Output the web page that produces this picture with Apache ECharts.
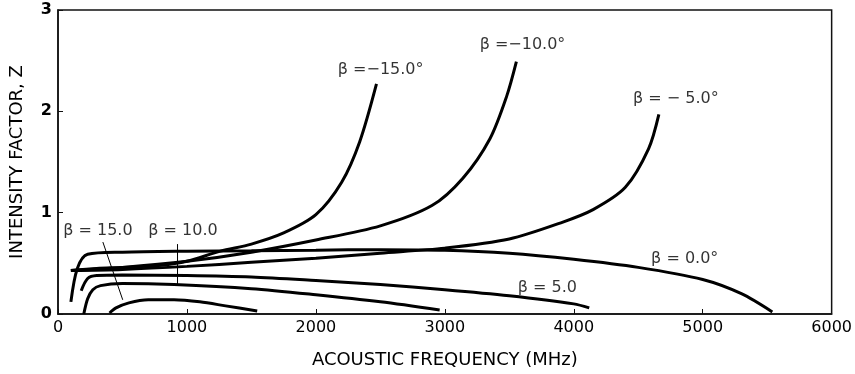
<!DOCTYPE html>
<html>
<head>
<meta charset="utf-8">
<script src="https://cdn.jsdelivr.net/npm/echarts@6/dist/echarts.min.js"></script>
<style>
  html, body { margin: 0; padding: 0; background: #fff; }
  #chart { width: 855px; height: 374px; }
</style>
</head>
<body>
<div id="chart"></div>
<script>
// curves: [frequency MHz, Z]
var betaM15 = [[100, 0.43], [300, 0.45], [500, 0.46], [800, 0.48], [1000, 0.52], [1260, 0.62], [1500, 0.69], [1750, 0.8], [2000, 0.98], [2200, 1.3], [2340, 1.7], [2470, 2.27]];
var betaM10 = [[100, 0.43], [500, 0.46], [1000, 0.52], [1500, 0.61], [2000, 0.73], [2500, 0.87], [2900, 1.07], [3140, 1.34], [3350, 1.73], [3480, 2.15], [3555, 2.49]];
var betaM5 = [[100, 0.43], [500, 0.44], [1000, 0.47], [1500, 0.51], [2000, 0.55], [2500, 0.6], [3000, 0.65], [3500, 0.74], [3900, 0.9], [4150, 1.03], [4400, 1.25], [4580, 1.63], [4660, 1.97]];
var beta0 = [[100, 0.12], [150, 0.45], [230, 0.59], [500, 0.61], [1000, 0.62], [1500, 0.625], [2000, 0.63], [2500, 0.635], [3000, 0.63], [3500, 0.6], [4000, 0.54], [4500, 0.46], [5000, 0.34], [5300, 0.2], [5540, 0.02]];
var beta5 = [[180, 0.23], [230, 0.35], [300, 0.38], [500, 0.385], [1000, 0.38], [1500, 0.365], [2000, 0.33], [2500, 0.29], [3000, 0.24], [3500, 0.18], [4000, 0.1], [4120, 0.06]];
var beta10 = [[200, 0.0], [230, 0.15], [270, 0.24], [330, 0.28], [500, 0.3], [900, 0.29], [1500, 0.25], [2000, 0.19], [2500, 0.12], [2960, 0.04]];
var beta15 = [[400, 0.01], [450, 0.06], [550, 0.11], [700, 0.14], [900, 0.14], [1100, 0.12], [1300, 0.08], [1545, 0.03]];

var curves = [betaM15, betaM10, betaM5, beta0, beta5, beta10, beta15];

// curve labels and their anchor points in data units
var labelTexts = ['β =−15.0°', 'β =−10.0°', 'β = − 5.0°', 'β = 0.0°', 'β = 5.0', 'β = 15.0', 'β = 10.0'];
var labelAt = [[2170, 2.41], [3270, 2.66], [4460, 2.12], [4600, 0.54], [3565, 0.26], [40, 0.82], [700, 0.82]];

// thin leader lines from labels to curves
var leader15 = [[348, 0.71], [502, 0.14]];
var leader10 = [[927, 0.69], [927, 0.29]];

var xTicks = [0, 1000, 2000, 3000, 4000, 5000, 6000];
var yTicks = [0, 1, 2, 3];

var font = 'DejaVu Sans';
var chart = echarts.init(document.getElementById('chart'), null, { renderer: 'canvas' });

var series = curves.map(function (d) {
  return {
    type: 'line',
    data: d,
    smooth: 0.3,
    showSymbol: false,
    lineStyle: { color: '#000', width: 3 },
    silent: true
  };
});

[leader15, leader10].forEach(function (d) {
  series.push({
    type: 'line',
    data: d,
    showSymbol: false,
    lineStyle: { color: '#000', width: 1 },
    silent: true
  });
});

series.push({
  type: 'scatter',
  symbolSize: 0,
  silent: true,
  data: labelAt.map(function (p, i) { return { value: p, name: labelTexts[i] }; }),
  label: {
    show: true,
    position: 'right',
    distance: 0,
    formatter: function (p) { return p.name; },
    color: '#000',
    fontFamily: font,
    fontSize: 16
  }
});

chart.setOption({
  backgroundColor: '#fff',
  animation: false,
  grid: {
    left: 57, right: 22, top: 10, bottom: 57,
    show: true, borderColor: '#111', borderWidth: 1.5
  },
  xAxis: {
    type: 'value',
    min: xTicks[0], max: xTicks[xTicks.length - 1], interval: 1000,
    name: 'ACOUSTIC FREQUENCY (MHz)',
    nameLocation: 'middle',
    nameGap: 37,
    nameTextStyle: { color: '#000', fontFamily: font, fontSize: 18 },
    axisLine: { show: true, lineStyle: { color: '#111', width: 1.5 } },
    axisTick: { show: true, inside: true, length: 5, lineStyle: { color: '#111' } },
    axisLabel: {
      color: '#000', fontFamily: font, fontSize: 16, margin: 6,
      showMinLabel: true, showMaxLabel: true,
      formatter: function (v) { return String(v); }
    },
    splitLine: { show: false }
  },
  yAxis: {
    type: 'value',
    min: yTicks[0], max: yTicks[yTicks.length - 1], interval: 1,
    name: 'INTENSITY FACTOR, Z',
    nameLocation: 'middle',
    nameGap: 32,
    nameTextStyle: { color: '#000', fontFamily: font, fontSize: 18 },
    axisLine: { show: true, lineStyle: { color: '#111', width: 1.5 } },
    axisTick: { show: true, inside: true, length: 5, lineStyle: { color: '#111' } },
    axisLabel: { color: '#000', fontFamily: font, fontSize: 16, margin: 6, fontWeight: 'bold' },
    splitLine: { show: false }
  },
  series: series
});
</script>
</body>
</html>
